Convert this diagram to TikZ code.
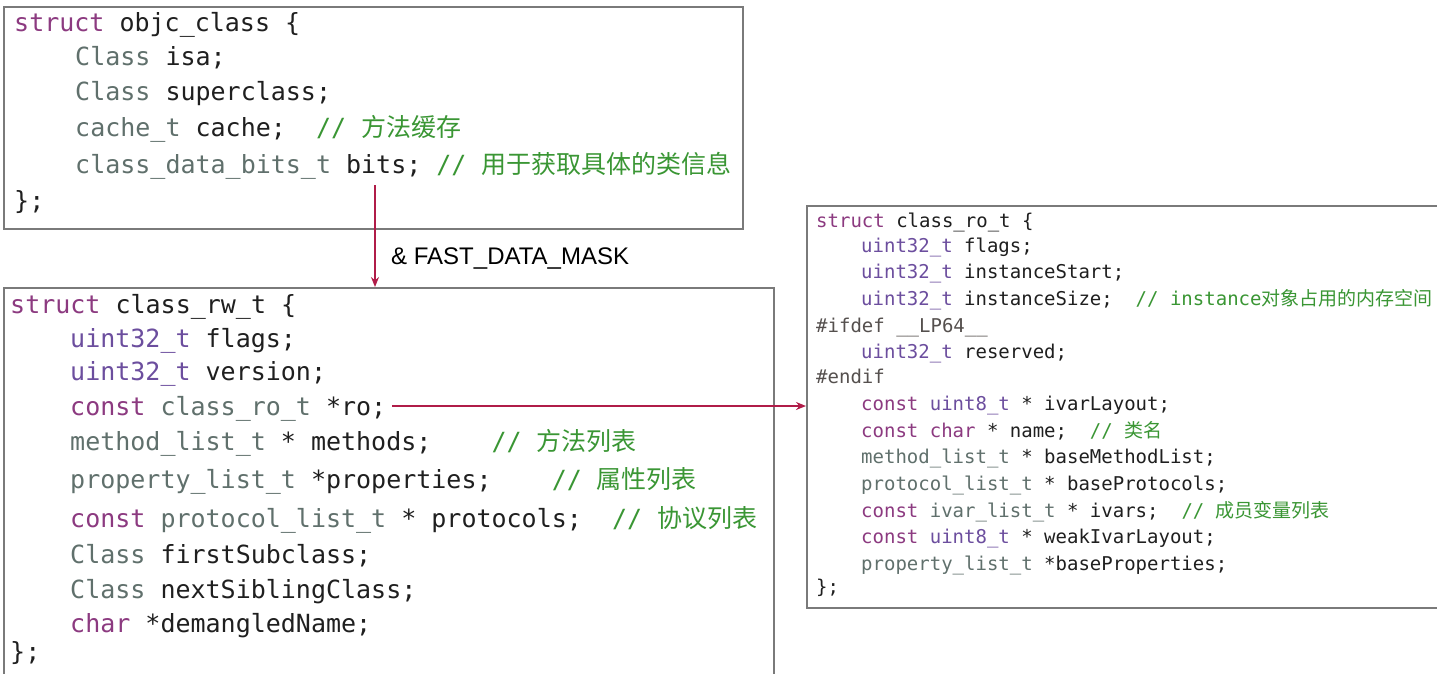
\documentclass[tikz,border=0pt]{standalone}
\usepackage{fontspec}
\setmainfont{Liberation Sans}
\setmonofont{DejaVu Sans Mono}
\newfontfamily\cjk{Noto Sans CJK SC}
\usepackage{xcolor}
\usetikzlibrary{arrows.meta}
\usetikzlibrary{positioning}

\definecolor{kwcol}{RGB}{140,58,128}
\definecolor{tycol}{RGB}{96,112,108}
\definecolor{uicol}{RGB}{108,78,158}
\definecolor{cmcol}{RGB}{58,150,52}
\definecolor{ppcol}{RGB}{85,80,78}
\definecolor{arrcol}{RGB}{176,28,72}
\definecolor{boxcol}{RGB}{122,122,122}

\newcommand\kw[1]{\textcolor{kwcol}{#1}}
\newcommand\ty[1]{\textcolor{tycol}{#1}}
\newcommand\ui[1]{\textcolor{uicol}{#1}}
\newcommand\pp[1]{\textcolor{ppcol}{#1}}
\newcommand\zh[1]{{\cjk #1}}
\newcommand\cm[1]{\textcolor{cmcol}{//~#1}}

\begin{document}
\begin{tikzpicture}[x=1pt, y=-1pt,
  box/.style = {draw=boxcol, line width=1.5pt, anchor=north west, inner sep=0pt},
  code/.style = {anchor=base west, inner sep=0pt, text=black!88,
    font=\ttfamily\fontsize{25}{30}\selectfont},
  smallcode/.style = {code, font=\ttfamily\fontsize{19}{24}\selectfont},
  link/.style = {draw=arrcol, line width=2pt, -{Stealth[length=10pt,width=8pt]}}]
  \path[use as bounding box, clip] (0,0) rectangle (1437,673);
  \fill[white] (0,0) rectangle (1437,673);

  % the three structs
  \node[box, minimum width=739, minimum height=222] (oc) at (3,6) {};
  \node[box, minimum width=770, minimum height=403] (rw) at (3,287) {};
  \node[box, minimum width=644, minimum height=402] (ro) at (806,205) {};

  % objc_class
  \foreach \x/\y/\t [count=\i] in {
    14/31/{\kw{struct} objc\_class \{},
    75/65/{\ty{Class} isa;},
    75/100/{\ty{Class} superclass;},
    75/136/{\ty{cache\_t} cache;~~\cm{\zh{方法缓存}}},
    75/173/{\ty{class\_data\_bits\_t} bits;~\cm{\zh{用于获取具体的类信息}}},
    14/209/{\};}}
    \node[code] (oc-\i) at (\x,\y) {\t};

  % class_rw_t
  \foreach \x/\y/\t [count=\i] in {
    10/313/{\kw{struct} class\_rw\_t \{},
    70/347/{\ui{uint32\_t} flags;},
    70/380/{\ui{uint32\_t} version;},
    70/415/{\kw{const} \ty{class\_ro\_t} *ro;},
    70/450/{\ty{method\_list\_t} * methods;~~~~\cm{\zh{方法列表}}},
    70/488/{\ty{property\_list\_t} *properties;~~~~\cm{\zh{属性列表}}},
    70/527/{\kw{const} \ty{protocol\_list\_t} * protocols;~~\cm{\zh{协议列表}}},
    70/563/{\ty{Class} firstSubclass;},
    70/598/{\ty{Class} nextSiblingClass;},
    70/632/{\kw{char} *demangledName;},
    10/660/{\};}}
    \node[code] (rw-\i) at (\x,\y) {\t};

  % class_ro_t
  \foreach \x/\y/\t [count=\i] in {
    816/227/{\kw{struct} class\_ro\_t \{},
    861/252/{\ui{uint32\_t} flags;},
    861/278/{\ui{uint32\_t} instanceStart;},
    861/305/{\ui{uint32\_t} instanceSize;~~\cm{instance\zh{对象占用的内存空间}}},
    816/332/{\pp{\#ifdef \_\_LP64\_\_}},
    861/358/{\ui{uint32\_t} reserved;},
    816/383/{\pp{\#endif}},
    861/410/{\kw{const} \ui{uint8\_t} * ivarLayout;},
    861/437/{\kw{const} \kw{char} * name;~~\cm{\zh{类名}}},
    861/463/{\ty{method\_list\_t} * baseMethodList;},
    861/490/{\ty{protocol\_list\_t} * baseProtocols;},
    861/517/{\kw{const} \ty{ivar\_list\_t} * ivars;~~\cm{\zh{成员变量列表}}},
    861/543/{\kw{const} \ui{uint8\_t} * weakIvarLayout;},
    861/570/{\ty{property\_list\_t} *baseProperties;},
    816/593/{\};}}
    \node[smallcode] (ro-\i) at (\x,\y) {\t};

  % arrows
  \coordinate (bits) at (375,185);
  \draw[link] (bits) -- (bits |- rw.north);
  \node[anchor=base west, inner sep=0pt, font=\fontsize{24}{29}\selectfont]
    (mask) at (391,264) {\& FAST\_DATA\_MASK};
  \coordinate (rop) at ([shift={(6,-9)}]rw-4.base east);
  \draw[link] (rop) -- (rop -| ro.west);
\end{tikzpicture}
\end{document}
